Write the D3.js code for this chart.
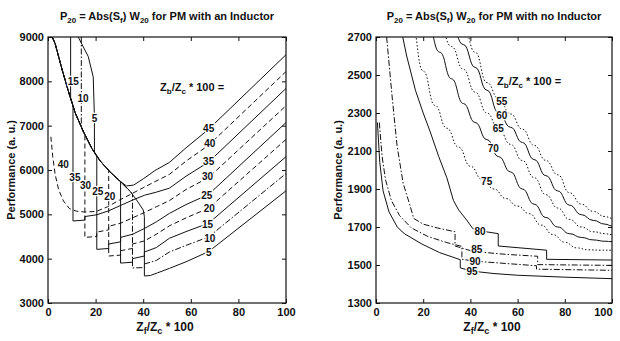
<!DOCTYPE html>
<html>
<head>
<meta charset="utf-8">
<script src="https://cdn.jsdelivr.net/npm/d3@7"></script>
<style>
  body { margin: 0; background: #fff; }
  text { font-family: "Liberation Sans Narrow", "Arial Narrow", "Liberation Sans", Arial, sans-serif; font-weight: bold; fill: #111; }
</style>
</head>
<body>
<svg id="chart" width="620" height="341"></svg>
<script>
// ---- left panel: PM with an inductor, one curve per Zb/Zc*100 level ----
// points are [Zf/Zc*100, performance]
const leftLevels = [5, 10, 15, 20, 25, 30, 35, 40, 45];
const leftCurve5 = [[12.7,9000],[16.9,8560],[19,8100],[19.5,7200],[19.5,6380],[22,6200],[26,5960],[30,5760],[34.5,5520],[37.5,5300],[40,5100],[40.5,4950],[40.5,3610],[43,3620],[46,3680],[51,3780],[58,3930],[67.5,4160],[100,5530]];
const leftCurve10 = [[14,9000],[14,6950],[15,6850],[18.5,6480],[22,6200],[26,5960],[30,5760],[34.5,5520],[35.5,5460],[35.5,3790],[40.5,3800],[40.5,3880],[45.5,3960],[51,4150],[58,4300],[67.5,4490],[100,5920]];
const leftCurve15 = [[9.5,9000],[9.5,7620],[11.5,7280],[15,6850],[18.5,6480],[22,6200],[26,5960],[30,5760],[30.5,5740],[30.5,3900],[35.5,3920],[35.5,4000],[40.5,4060],[40.5,4150],[45.5,4250],[51,4460],[58,4610],[67.5,4800],[100,6300]];
const leftCurve20 = [[1.8,9000],[3,8850],[6,8250],[9,7700],[11.5,7280],[15,6850],[18.5,6480],[22,6200],[25.5,5990],[25.5,4060],[30.5,4080],[30.5,4180],[35.5,4230],[35.5,4330],[40.5,4400],[45.5,4550],[51,4740],[58,4920],[67.5,5140],[100,6690]];
const leftCurve25 = [[1.8,9000],[3,8850],[6,8250],[9,7700],[11.5,7280],[15,6850],[18.5,6480],[20.5,6320],[20.5,4210],[25.5,4230],[25.5,4330],[30.5,4380],[30.5,4480],[35.5,4550],[40.5,4680],[45.5,4830],[51,5020],[58,5220],[67.5,5450],[100,7070]];
const leftCurve30 = [[1.8,9000],[3,8850],[6,8250],[9,7700],[11.5,7280],[15,6850],[15.5,6800],[15.5,4480],[20.5,4500],[20.5,4600],[25.5,4650],[25.5,4730],[30.5,4800],[35.5,4920],[40.5,5040],[45.5,5170],[51,5310],[58,5560],[67.5,5830],[100,7450]];
const leftCurve35 = [[1.8,9000],[3,8850],[6,8250],[9,7700],[10.5,7450],[10.5,4850],[15.5,4870],[15.5,4950],[20.5,4990],[25.5,5080],[30.5,5200],[35.5,5320],[40.5,5430],[45.5,5500],[51,5590],[58,5860],[67.5,6180],[100,7840]];
const leftCurve40 = [[1.2,6750],[2,6300],[3,5900],[4.5,5550],[6.5,5300],[9,5130],[12,5070],[16,5050],[20.5,5070],[25,5170],[30,5320],[35,5460],[40,5600],[45,5740],[51,5900],[58,6200],[67.5,6560],[100,8220]];
const leftCurve45 = [[1.8,9000],[3,8850],[6,8250],[9,7700],[11.5,7280],[15,6850],[18.5,6480],[22,6200],[26,5960],[30,5760],[33,5640],[36,5660],[40,5800],[45,5990],[51,6170],[58,6500],[67.5,6920],[100,8600]];
const leftStyles = ['solid', 'dashdot', 'solid', 'dashed', 'solid', 'dashed', 'solid', 'dashed', 'solid'];
// where each level number is written
const leftLabels = [
  ['5', 67.6, 4128], ['10', 68, 4466], ['15', 67, 4760], ['20', 67.8, 5136], ['25', 66.7, 5436],
  ['30', 67, 5850], ['35', 67.5, 6190], ['40', 68, 6600], ['45', 67.5, 6940],
  ['40', 6.4, 6113], ['35', 11.3, 5820], ['30', 15.8, 5660], ['25', 20.9, 5510], ['20', 26, 5400],
  ['15', 10.6, 7990], ['10', 14.7, 7620], ['5', 19.5, 7170]
];
const leftYTicks = [3000, 4000, 5000, 6000, 7000, 8000, 9000];

// ---- right panel: PM with no inductor ----
const rightLevels = [55, 60, 65, 70, 75, 80, 85, 90, 95];
// wavy staircase levels
const rightCurve55 = [[37,2760],[42,2620],[47,2460],[52,2375],[57,2295],[62,2215],[67,2130],[72,2050],[77,1975],[82,1880],[87,1820],[92,1782],[97,1755],[100,1746]];
const rightCurve60 = [[32,2760],[37,2660],[42,2540],[47,2420],[52,2300],[57,2225],[62,2145],[67,2055],[72,1970],[77,1890],[82,1815],[87,1765],[92,1735],[97,1715],[100,1706]];
const rightCurve65 = [[27,2760],[32,2650],[37,2530],[42,2410],[47,2300],[52,2215],[57,2135],[62,2050],[67,1960],[72,1870],[77,1800],[82,1740],[87,1700],[92,1675],[97,1665],[100,1660]];
const rightCurve70 = [[22,2760],[27,2620],[32,2480],[37,2350],[42,2250],[47,2160],[52,2070],[57,1990],[62,1900],[67,1820],[72,1750],[77,1700],[82,1665],[87,1645],[92,1632],[97,1625],[100,1623]];
const rightCurve75 = [[15,2780],[20,2520],[25,2340],[30,2220],[35,2120],[40,2020],[45,1950],[50,1900],[55,1850],[60,1810],[65,1770],[70,1710],[75,1660],[80,1620],[85,1590],[90,1580],[95,1578],[100,1578]];
// levels drawn with straight segments (their big steps are listed as corners)
const rightCurve80 = [[10,2780],[13,2600],[16.7,2420],[20,2300],[23,2200],[26.6,2070],[30,1960],[32.8,1840],[35,1790],[38.4,1737],[41,1692],[44,1680],[51.8,1665],[51.8,1600],[72.3,1578],[72.3,1530],[100,1526]];
const rightCurve85 = [[4.5,2700],[6.8,2390],[8.9,2130],[11.5,1930],[14,1830],[16,1745],[20,1715],[26,1695],[33.5,1675],[33.5,1600],[41,1572],[55,1556],[68.5,1546],[68.5,1502],[100,1498]];
const rightCurve90 = [[1.4,2250],[2.6,2070],[4,1950],[6.5,1840],[10,1760],[15,1695],[22,1650],[30,1618],[36.4,1598],[36.4,1530],[42,1520],[55,1508],[68,1496],[68,1478],[100,1472]];
const rightCurve95 = [[0.6,2250],[1.6,2040],[3,1890],[5.5,1780],[9,1700],[12,1665],[19.5,1610],[27,1565],[35.7,1528],[35.7,1485],[40.5,1468],[50,1455],[60,1446],[80,1436],[100,1428]];
const rightStyles = ['dotted', 'solid', 'dotted', 'solid', 'dotted', 'solid', 'dashdot', 'dashdot', 'solid'];
const rightWavy = [true, true, true, true, true, false, false, false, false];
const rightLabels = [
  ['55', 53.3, 2359], ['60', 53.3, 2289], ['65', 51.8, 2219], ['70', 49.7, 2114], ['75', 46.9, 1938],
  ['80', 44.1, 1674], ['85', 42.7, 1579], ['90', 42, 1521], ['95', 40.7, 1468]
];
const rightYTicks = [1300, 1500, 1700, 1900, 2100, 2300, 2500, 2700];

const xTicks = [0, 20, 40, 60, 80, 100];

const dashes = { solid: null, dashed: '5,3', dotted: '1.5,2', dashdot: '6,2,1.5,2' };

const svg = d3.select('#chart');

// writes text made of [string, isSubscript] pieces; centred by measuring it
function richText(g, x, y, parts, anchor, size) {
  const t = g.append('text')
    .attr('x', x).attr('y', y)
    .style('font-size', size + 'px');
  let down = false;
  parts.forEach(p => {
    const span = t.append('tspan').text(p[0]);
    if (p[1] && !down) { span.attr('dy', 3).style('font-size', (size - 3) + 'px'); down = true; }
    else if (p[1]) { span.style('font-size', (size - 3) + 'px'); }
    else if (down) { span.attr('dy', -3); down = false; }
  });
  if (anchor === 'middle') {
    const w = t.node().getComputedTextLength();
    t.attr('x', x - w / 2);
  }
  return t;
}

function drawPanel(opt) {
  const x = d3.scaleLinear().domain([0, 100]).range(opt.xRange);
  const y = d3.scaleLinear().domain(opt.yDomain).range([303, 37]);
  const g = svg.append('g');

  g.append('clipPath').attr('id', opt.id + '-clip')
    .append('rect')
    .attr('x', opt.xRange[0]).attr('y', 37)
    .attr('width', opt.xRange[1] - opt.xRange[0]).attr('height', 266);

  const plot = g.append('g').attr('clip-path', 'url(#' + opt.id + '-clip)');

  opt.curves.forEach((pts, i) => {
    const line = d3.line()
      .x(d => x(d[0]))
      .y(d => y(d[1]))
      .curve(opt.wavy && opt.wavy[i] ? d3.curveBumpX : d3.curveLinear);
    plot.append('path')
      .attr('d', line(pts))
      .attr('fill', 'none')
      .attr('stroke', '#111')
      .attr('stroke-width', 1)
      .attr('stroke-dasharray', dashes[opt.styles[i]]);
  });

  // level numbers, with a white halo so they break the lines
  plot.selectAll('text.lvl')
    .data(opt.labels)
    .enter()
    .append('text')
    .attr('class', 'lvl')
    .attr('x', d => x(d[1]))
    .attr('y', d => y(d[2]))
    .attr('text-anchor', 'middle')
    .attr('dominant-baseline', 'central')
    .style('font-size', '10px')
    .style('stroke', '#fff')
    .style('stroke-width', 2.5)
    .style('paint-order', 'stroke')
    .text(d => d[0]);

  // axes: ticks point inward on all four sides
  const bottom = g.append('g').attr('transform', 'translate(0,303)')
    .call(d3.axisBottom(x).tickValues(xTicks).tickSize(-4).tickPadding(5));
  const left = g.append('g').attr('transform', 'translate(' + opt.xRange[0] + ',0)')
    .call(d3.axisLeft(y).tickValues(opt.yTicks).tickSize(-4).tickPadding(4).tickFormat(d3.format('d')));
  g.append('g').attr('transform', 'translate(0,37)')
    .call(d3.axisTop(x).tickValues(xTicks).tickSize(-4).tickFormat(''));
  g.append('g').attr('transform', 'translate(' + opt.xRange[1] + ',0)')
    .call(d3.axisRight(y).tickValues(opt.yTicks).tickSize(-4).tickFormat(''));

  g.selectAll('.domain').remove();
  g.selectAll('.tick line').attr('stroke', '#111');
  [bottom, left].forEach(a => a.selectAll('text')
    .style('font-size', '11px').style('font-family', null).attr('fill', '#111'));

  // keep the last x tick label inside the page
  bottom.selectAll('text').filter(d => d === 100)
    .attr('text-anchor', opt.lastTickAnchor);

  g.append('rect')
    .attr('x', opt.xRange[0]).attr('y', 37)
    .attr('width', opt.xRange[1] - opt.xRange[0]).attr('height', 266)
    .attr('fill', 'none').attr('stroke', '#111').attr('stroke-width', 1.2);

  const mid = (opt.xRange[0] + opt.xRange[1]) / 2;

  richText(g, mid, 20, [['P', 0], ['20', 1], [' = Abs(S', 0], ['f', 1], [') W', 0], ['20', 1], [opt.titleEnd, 0]], 'middle', 11);

  richText(g, mid - 2, 331, [['Z', 0], ['f', 1], ['/Z', 0], ['c', 1], [' * 100', 0]], 'middle', 12);

  richText(g, opt.zbPos[0], opt.zbPos[1], [['Z', 0], ['b', 1], ['/Z', 0], ['c', 1], [' * 100 =', 0]], 'start', 11);

  g.append('text')
    .attr('transform', 'translate(' + opt.yLabelX + ',170) rotate(-90)')
    .attr('text-anchor', 'middle')
    .style('font-size', '11px')
    .text('Performance (a. u.)');
}

drawPanel({
  id: 'left',
  xRange: [48, 286],
  yDomain: [3000, 9000],
  yTicks: leftYTicks,
  curves: [leftCurve5, leftCurve10, leftCurve15, leftCurve20, leftCurve25, leftCurve30, leftCurve35, leftCurve40, leftCurve45],
  styles: leftStyles,
  labels: leftLabels,
  titleEnd: ' for PM with an Inductor',
  zbPos: [160, 91],
  yLabelX: 15,
  lastTickAnchor: 'middle'
});

drawPanel({
  id: 'right',
  xRange: [376, 612],
  yDomain: [1300, 2700],
  yTicks: rightYTicks,
  curves: [rightCurve55, rightCurve60, rightCurve65, rightCurve70, rightCurve75, rightCurve80, rightCurve85, rightCurve90, rightCurve95],
  styles: rightStyles,
  wavy: rightWavy,
  labels: rightLabels,
  titleEnd: ' for PM with no Inductor',
  zbPos: [497, 85],
  yLabelX: 342,
  lastTickAnchor: 'end'
});
</script>
</body>
</html>
